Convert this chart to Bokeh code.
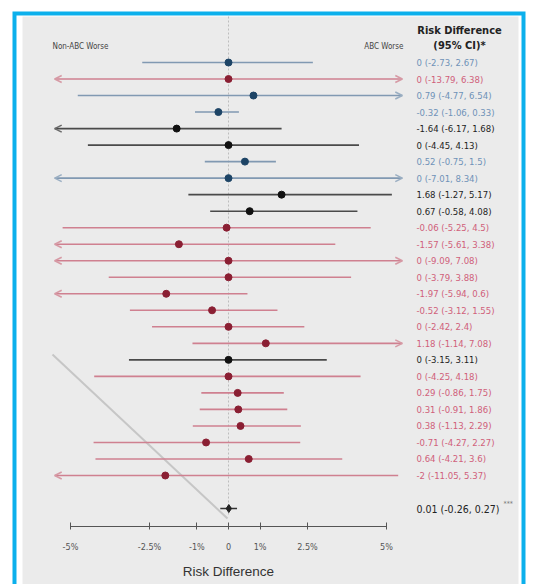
from bokeh.plotting import figure
from bokeh.models import Range1d, FixedTicker, Arrow, OpenHead, ColumnDataSource
from bokeh.core.properties import value
from bokeh.embed import file_html
from bokeh.resources import INLINE

# ---- data: risk differences (%) with 95% CI, one entry per study row ----
groups = ["blue", "red", "blue", "blue", "black", "black", "blue", "blue", "black", "black",
          "red", "red", "red", "red", "red", "red", "red", "red", "black", "red",
          "red", "red", "red", "red", "red", "red"]
est = [0, 0, 0.79, -0.32, -1.64, 0, 0.52, 0, 1.68, 0.67,
       -0.06, -1.57, 0, 0, -1.97, -0.52, 0, 1.18, 0, 0,
       0.29, 0.31, 0.38, -0.71, 0.64, -2]
lo = [-2.73, -13.79, -4.77, -1.06, -6.17, -4.45, -0.75, -7.01, -1.27, -0.58,
      -5.25, -5.61, -9.09, -3.79, -5.94, -3.12, -2.42, -1.14, -3.15, -4.25,
      -0.86, -0.91, -1.13, -4.27, -4.21, -11.05]
hi = [2.67, 6.38, 6.54, 0.33, 1.68, 4.13, 1.5, 8.34, 5.17, 4.08,
      4.5, 3.38, 7.08, 3.88, 0.6, 1.55, 2.4, 7.08, 3.11, 4.18,
      1.75, 1.86, 2.29, 2.27, 3.6, 5.37]
summary_est, summary_lo, summary_hi = 0.01, -0.26, 0.27
tick_values = [-5, -2.5, -1, 0, 1, 2.5, 5]
tick_labels = ["-5%", "-2.5%", "-1%", "0", "1%", "2.5%", "5%"]

# ---- layout constants (pixels) ----
W, H = 535, 584
PX_PER_UNIT = 31.6
ZERO_PX = 228
ROW1_PX = 62
ROW_PX = 16.52
CLIP = 5.5          # CIs beyond this are cut and drawn with an arrow head
SUMMARY_ROW = 28
AXIS_ROW = 1 + (526 - ROW1_PX) / ROW_PX

FONT = "'Liberation Sans Narrow', 'DejaVu Sans Condensed', 'Liberation Sans', sans-serif"
CYAN = "#0cb0ec"
PANEL = "#ebebeb"

line_col = {"blue": "#8199b2", "red": "#cf8090", "black": "#4a4a4a"}
head_col = {"blue": "#9aaec2", "red": "#d69aa5", "black": "#6a6a6a"}
dot_col = {"blue": "#1d4466", "red": "#8a1f33", "black": "#111111"}
txt_col = {"blue": "#6f92b8", "red": "#d0607a", "black": "#1e1e1e"}

p = figure(width=W, height=H, output_backend="svg", toolbar_location=None,
           x_range=Range1d(-ZERO_PX / PX_PER_UNIT, (W - ZERO_PX) / PX_PER_UNIT),
           y_range=Range1d(1 + (H - ROW1_PX) / ROW_PX, 1 - ROW1_PX / ROW_PX),
           y_axis_location=None, min_border=0)
p.extra_x_ranges = {"px": Range1d(0, W)}
p.extra_y_ranges = {"px": Range1d(H, 0)}
p.xgrid.visible = False
p.ygrid.visible = False
p.outline_line_color = None
p.background_fill_color = "white"
p.border_fill_color = "white"

# frame: cyan border, thin white gap, grey panel
p.quad(left=12, right=525, top=11, bottom=H + 5, fill_color=CYAN, line_color=None,
       x_range_name="px", y_range_name="px")
p.quad(left=16, right=521, top=15, bottom=H + 5, fill_color="white", line_color=None,
       x_range_name="px", y_range_name="px")
p.quad(left=22, right=518, top=16, bottom=H + 5, fill_color=PANEL, line_color=None,
       x_range_name="px", y_range_name="px")

# faint diagonal guide in the lower left
p.line(x=[52, 227], y=[354, 518], line_color="#c6c6c6", line_width=2,
       x_range_name="px", y_range_name="px")

# zero reference line
p.segment(x0=0, x1=0, y0=16, y1=516, line_color="#bdbdbd", line_dash="2 2",
          line_width=1, y_range_name="px")

rows = list(range(1, len(est) + 1))
for g in ["blue", "red", "black"]:
    idx = [i for i, gg in enumerate(groups) if gg == g]
    src = ColumnDataSource(dict(
        y=[rows[i] for i in idx],
        est=[est[i] for i in idx],
        x0=[max(lo[i], -CLIP) for i in idx],
        x1=[min(hi[i], CLIP) for i in idx],
        label=[f"{est[i]:g} ({lo[i]:g}, {hi[i]:g})" for i in idx],
    ))
    p.segment(x0="x0", x1="x1", y0="y", y1="y", source=src,
              line_color=line_col[g], line_width=1.6)
    p.scatter(x="est", y="y", source=src, size=7, fill_color=dot_col[g],
              line_color=dot_col[g])
    p.text(x=416, y="y", text="label", source=src, x_range_name="px",
           text_font=value(FONT), text_font_size="9.5px", text_color=txt_col[g],
           text_baseline="middle", text_align="left")

    # arrow heads for intervals that run past the plotted range
    left = [i for i in idx if lo[i] < -CLIP]
    right = [i for i in idx if hi[i] > CLIP]
    for sel, sign in ((left, -1), (right, 1)):
        if not sel:
            continue
        asrc = ColumnDataSource(dict(
            xs=[est[i] for i in sel], xe=[sign * CLIP for i in sel],
            y=[rows[i] for i in sel]))
        p.add_layout(Arrow(end=OpenHead(size=7, line_color=head_col[g], line_width=1.5),
                           x_start="xs", x_end="xe", y_start="y", y_end="y",
                           source=asrc, line_alpha=0))

# pooled estimate
p.segment(x0=summary_lo, x1=summary_hi, y0=SUMMARY_ROW, y1=SUMMARY_ROW,
          line_color="#333333", line_width=1.5)
p.scatter(x=[summary_est], y=[SUMMARY_ROW], marker="diamond", size=8, color="#222222")
p.text(x=416, y=[SUMMARY_ROW], text=[f"{summary_est:g} ({summary_lo:g}, {summary_hi:g})"],
       x_range_name="px", text_font=value(FONT), text_font_size="10.5px",
       text_color="#222222", text_baseline="middle")
p.text(x=503, y=[SUMMARY_ROW - 0.3], text=["***"], x_range_name="px",
       text_font=value(FONT), text_font_size="7px", text_color="#777777",
       text_baseline="middle")

# column header and direction labels
p.text(x=459, y=[30, 45], text=["Risk Difference", "(95% CI)*"], x_range_name="px",
       y_range_name="px", text_font=value(FONT), text_font_size="11px",
       text_font_style="bold", text_color="#222222", text_baseline="middle",
       text_align="center")
p.text(x=52, y=[46], text=["Non-ABC Worse"], x_range_name="px", y_range_name="px",
       text_font=value(FONT), text_font_size="8px", text_color="#444444",
       text_baseline="middle")
p.text(x=403, y=[46], text=["ABC Worse"], x_range_name="px", y_range_name="px",
       text_font=value(FONT), text_font_size="8px", text_color="#444444",
       text_baseline="middle", text_align="right")

# x axis drawn inside the panel
ax = p.xaxis[0]
ax.fixed_location = AXIS_ROW
ax.ticker = FixedTicker(ticks=tick_values)
ax.major_label_overrides = {v: l for v, l in zip(tick_values, tick_labels)}
ax.bounds = (-5, 5)
ax.axis_line_color = "#555555"
ax.major_tick_line_color = "#555555"
ax.minor_tick_line_color = None
ax.major_tick_in = 4
ax.major_tick_out = 3
ax.major_label_standoff = 12
ax.major_label_text_font = FONT
ax.major_label_text_font_size = "9px"
ax.major_label_text_color = "#555555"
ax.axis_label = "Risk Difference"
ax.axis_label_text_font = "'Liberation Sans', sans-serif"
ax.axis_label_text_font_style = "normal"
ax.axis_label_text_font_size = "13.5px"
ax.axis_label_text_color = "#333333"
ax.axis_label_standoff = 9

open("out.html", "w").write(file_html(p, INLINE))
